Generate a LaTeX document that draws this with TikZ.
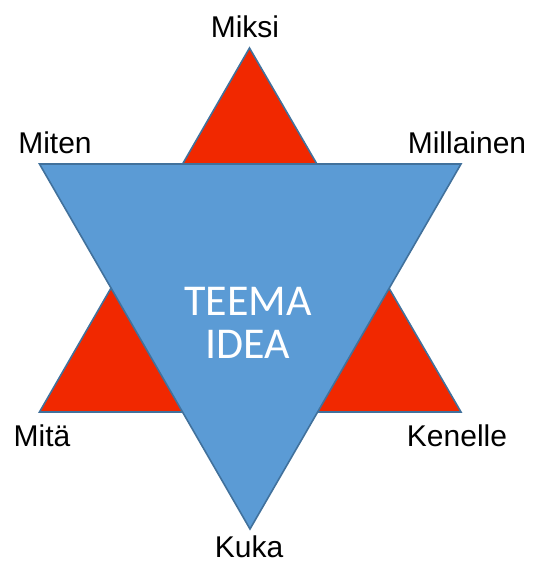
\documentclass[tikz,border=0pt]{standalone}
\usepackage{fontspec}
\setmainfont{Liberation Sans}
\newfontfamily\carlito{Carlito}
\definecolor{redfill}{RGB}{241,40,0}
\definecolor{bluefill}{RGB}{91,155,213}
\definecolor{edgeblue}{RGB}{65,113,156}
\tikzset{
  tri/.style={draw=edgeblue, line width=1.6pt, line join=miter},
  lbl/.style={anchor=base, inner sep=0pt, font=\fontsize{30}{34}\selectfont},
  cornerpt/.style={inner sep=0pt, minimum size=0pt}
}
\begin{document}
\begin{tikzpicture}[x=1pt,y=-1pt]
\useasboundingbox (0,0) rectangle (533,563);
% red triangle corners
\coordinate (rA) at (249.5,48);
\coordinate (rL) at (39.5,412);
\coordinate (rR) at (461,412);
% blue triangle corners
\coordinate (bL) at (39.5,164);
\coordinate (bR) at (461,164);
\coordinate (bB) at (250,529);
\fill[redfill, tri] (rA) -- (rL) -- (rR) -- cycle;
\fill[bluefill, tri] (bL) -- (bR) -- (bB) -- cycle;
% labels
\node[lbl] (miksi) at (245,37) {Miksi};
\node[lbl] (miten) at (55,153) {Miten};
\node[lbl] (millainen) at (467,153) {Millainen};
\node[lbl] (mita) at (42,446) {Mitä};
\node[lbl] (kenelle) at (457,446) {Kenelle};
\node[lbl] (kuka) at (249,557) {Kuka};
\node[anchor=base, inner sep=0pt, text=white, align=center,
      font=\carlito\fontsize{44}{43}\selectfont] (teema) at (248,358) {TEEMA\\IDEA};
\end{tikzpicture}
\end{document}
